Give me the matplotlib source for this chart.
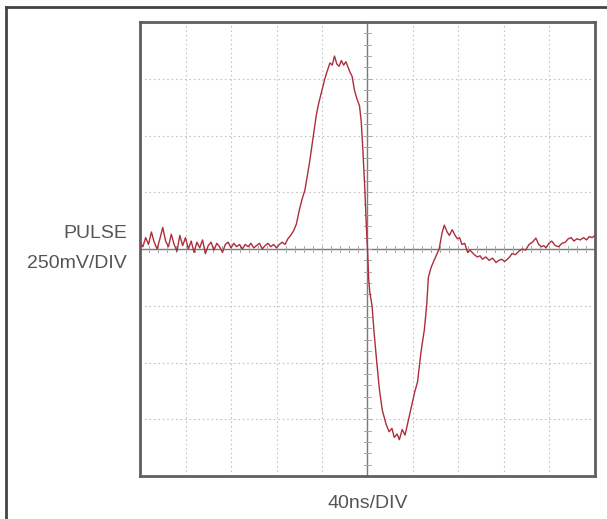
import numpy as np
import matplotlib.pyplot as plt
from matplotlib.lines import Line2D

# scope trace as (time ns, pulse mV); 40 ns/div, 250 mV/div
baseline_left = [(0, 30), (2.5, 10), (5, 50), (7.5, 20), (10, 75), (12.5, 30), (15, 0),
                 (17.5, 45), (20, 95), (22.5, 35), (25, 10), (27.5, 65), (30, 20),
                 (32.5, -10), (35, 60), (37.5, 15), (40, 50), (42.5, 0), (45, 35),
                 (47.5, -15), (50, 30), (52.5, 5), (55, 40), (57.5, -20), (60, 15),
                 (62.5, 30), (65, -5), (67.5, 25), (70, 10), (72.5, -15), (75, 20),
                 (77.5, 30), (80, 5), (82.5, 25), (85, 10), (87.5, 20), (90, 0),
                 (92.5, 20), (95, 10), (97.5, 25), (100, 5), (102.5, 15), (105, 25),
                 (107.5, 0), (110, 15), (112.5, 25), (115, 10), (117.5, 20), (120, 5),
                 (122.5, 20), (125, 30), (127.5, 20), (130, 45)]
pulse_pos = [(132.5, 60), (135, 80), (137.5, 110), (140, 170), (142.5, 220), (145, 260),
             (147, 320), (149, 380), (151, 450), (153, 520), (155, 590), (157, 640),
             (160, 700), (162.5, 750), (165, 790), (167, 820), (169, 810), (171, 850),
             (173, 815), (175, 805), (177, 830), (179, 810), (181, 825), (183, 800),
             (184.5, 780), (186.5, 760), (188.5, 700), (190.5, 665), (193, 630),
             (194.5, 560), (196, 430), (197.5, 280), (199, 100), (200, 0)]
pulse_neg = [(201, -130), (202, -190), (204, -250), (206, -380), (208, -490),
             (210.5, -620), (213, -710), (216.5, -775), (219, -805), (221.5, -790),
             (223.5, -830), (226, -815), (228, -840), (230.5, -795), (233, -820),
             (235, -775), (237.5, -720), (239.5, -675), (241.5, -630), (244, -585),
             (247, -455), (250, -355), (252, -250), (253.5, -125), (256, -80),
             (259, -45), (263, 0)]
tail = [(265.5, 70), (267.5, 105), (270, 75), (272, 60), (274.5, 85), (277, 60), (279, 45),
        (281, 50), (283, 20), (285.5, 25), (288, -15), (290, -5), (292, -15), (294, -25),
        (296.5, -35), (299, -30), (301, -45), (304, -35), (307, -50), (310, -40),
        (313, -60), (315.5, -50), (318, -45), (320.5, -55), (323, -45), (325, -35),
        (327, -20), (330, -25), (333, -10), (336, 0), (339, -5), (342, 20), (345, 30),
        (348, 48), (350.5, 20), (353, 10), (355, 15), (357, 5), (359.5, 25), (362, 35),
        (365, 15), (368, 10), (371, 25), (374, 30), (376.5, 45), (379, 50), (381.5, 35),
        (384, 45), (387, 40), (390, 50), (392.5, 40), (395, 55), (397.5, 50), (400, 60)]

trace = baseline_left + pulse_pos + pulse_neg + tail
t_ns = [p[0] for p in trace]
v_mv = [p[1] for p in trace]

fig = plt.figure(figsize=(6.07, 5.19), dpi=100)
ax = fig.add_axes([140 / 607, 1 - 476 / 519, 455 / 607, 454 / 519])

ax.plot(t_ns, v_mv, color='#ad2d3c', lw=1.0, zorder=5)

ax.set_xlim(0, 400)
ax.set_ylim(-1000, 1000)
ax.set_xticks(np.arange(40, 400, 40))
ax.set_yticks(np.arange(-750, 1000, 250))
ax.grid(True, color='#c4c4c4', ls=(0, (1.5, 2.5)), lw=0.8)
ax.tick_params(length=0, labelbottom=False, labelleft=False)

# center cross with small division marks
ax.axvline(200, color='#7a7a7a', lw=1)
ax.axhline(0, color='#7a7a7a', lw=1)
for tx in np.arange(8, 400, 8):
    ax.plot([tx, tx], [-12, 12], color='#a8a8a8', lw=0.7)
for vy in np.arange(-950, 1000, 50):
    ax.plot([197, 203], [vy, vy], color='#a8a8a8', lw=0.7)

for s in ax.spines.values():
    s.set_color('#5f5f5f')
    s.set_linewidth(2)

lab_font = ['Liberation Sans', 'DejaVu Sans']
fig.text(127 / 607, 1 - 233 / 519, 'PULSE', ha='right', va='center',
         fontsize=14, color='#555555', family=lab_font)
fig.text(127 / 607, 1 - 263 / 519, '250mV/DIV', ha='right', va='center',
         fontsize=14, color='#555555', family=lab_font)
fig.text(368 / 607, 1 - 503 / 519, '40ns/DIV', ha='center', va='center',
         fontsize=14, color='#555555', family=lab_font)

# frame around the figure (top and left edges show)
fig.add_artist(Line2D([6 / 607, 6 / 607], [0, 1 - 7 / 519], color='#444444', lw=2))
fig.add_artist(Line2D([6 / 607, 1], [1 - 7 / 519, 1 - 7 / 519], color='#444444', lw=2))

fig.savefig('out.png', dpi=100)
